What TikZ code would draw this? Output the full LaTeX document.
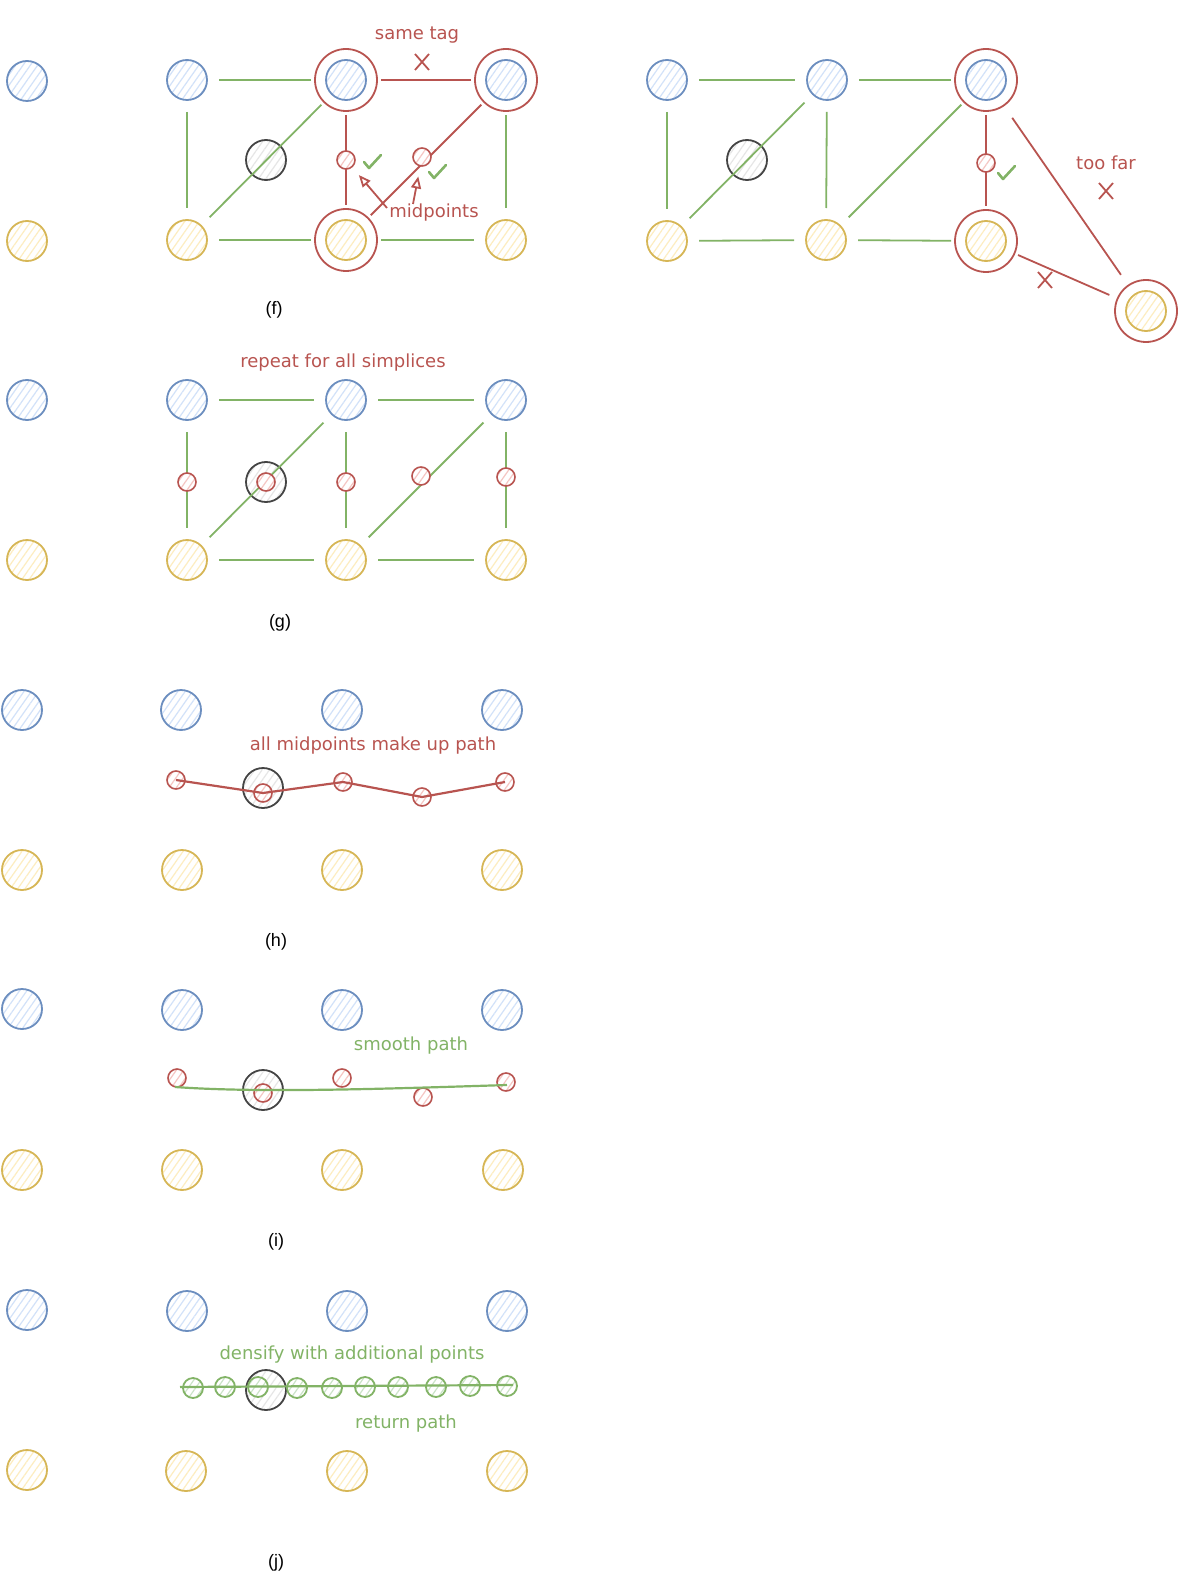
\documentclass[tikz,border=0pt]{standalone}
\usepackage{fontspec}
\setmainfont{Liberation Sans}
\newfontfamily\notefont{DejaVu Sans}
\usetikzlibrary{arrows.meta,patterns.meta}

\definecolor{bluedraw}{HTML}{6C8EBF}
\definecolor{bluefill}{HTML}{D2E2F9}
\definecolor{yellowdraw}{HTML}{D6B656}
\definecolor{yellowfill}{HTML}{FDEDC0}
\definecolor{reddraw}{HTML}{B85450}
\definecolor{redfill}{HTML}{F5C6C3}
\definecolor{greendraw}{HTML}{82B366}
\definecolor{greenfill}{HTML}{CBE3C7}
\definecolor{querydraw}{HTML}{444444}
\definecolor{queryfill}{HTML}{E6E6E6}

\tikzset{
	hatch/.style={preaction={fill=white}, pattern={Lines[angle=55, distance=6pt, line width=1.2pt]}, pattern color=#1},
	vtxblue/.style={circle, draw=bluedraw, hatch=bluefill, line width=1.8pt, minimum size=40pt, inner sep=0pt, outer sep=12pt},
	vtxyellow/.style={circle, draw=yellowdraw, hatch=yellowfill, line width=1.8pt, minimum size=40pt, inner sep=0pt, outer sep=12pt},
	query/.style={circle, draw=querydraw, hatch=queryfill, line width=1.8pt, minimum size=40pt, inner sep=0pt},
	ring/.style={circle, draw=reddraw, line width=1.8pt, minimum size=62pt, inner sep=0pt, outer sep=4pt},
	midpt/.style={circle, draw=reddraw, hatch=redfill, line width=1.6pt, minimum size=18pt, inner sep=0pt},
	densept/.style={circle, draw=greendraw, hatch=greenfill, line width=1.8pt, minimum size=20pt, inner sep=0pt},
	ok/.style={draw=greendraw, line width=1.8pt},
	bad/.style={draw=reddraw, line width=1.8pt},
	note/.style={font=\notefont\fontsize{18}{21}\selectfont},
	caption/.style={font=\fontsize{18}{21}\selectfont},
	pics/tick/.style={code={\draw[greendraw, line width=2.6pt, line cap=round, line join=round] (-8,0) -- (-3,6) -- (9,-7);}},
	pics/cross/.style={code={\draw[reddraw, line width=1.8pt] (-7,-8) -- (7,8) (-7,8) -- (7,-8);}},
}

\begin{document}
\begin{tikzpicture}[x=1pt, y=-1pt]
	\useasboundingbox (0,0) rectangle (1178,1594);

	% (f) one simplex, tags compared
	\draw (27,81) node [vtxblue] (fL1) {};
	\draw (27,241) node [vtxyellow] (fL2) {};
	\draw (187,80) node [vtxblue] (fB1) {};
	\draw (346,80) node [vtxblue] (fB2) {};
	\draw (506,80) node [vtxblue] (fB3) {};
	\draw (187,240) node [vtxyellow] (fY1) {};
	\draw (346,240) node [vtxyellow] (fY2) {};
	\draw (506,240) node [vtxyellow] (fY3) {};
	\draw (346,80) node [ring] (fB2r) {};
	\draw (506,80) node [ring] (fB3r) {};
	\draw (346,240) node [ring] (fY2r) {};
	\draw (266,160) node [query] (fq) {};

	\draw[ok]
		(fB1) edge (fB2r)
		(fB1) edge (fY1)
		(fY1) edge (fB2r)
		(fB3r) edge (fY3)
		(fY1) edge (fY2r)
		(fY2r) edge (fY3)
	;
	\draw[bad]
		(fB2r) edge (fB3r)
		(fB2r) edge (fY2r)
		(fY2r) edge (fB3r)
	;
	\draw (346,160) node [midpt] (fm1) {};
	\draw (422,157) node [midpt] (fm2) {};
	\pic at (372,162) {tick};
	\pic at (437,172) {tick};

	\node [note, text=reddraw] (sametag) at (417,35) {same tag};
	\pic at (422,62) {cross};
	\node [note, text=reddraw] (midlbl) at (434,213) {midpoints};
	\coordinate (arrA) at (387,208);
	\coordinate (arrB) at (413,204);
	\draw[bad, -{Triangle[open, length=12pt, width=10pt]}, shorten >=10pt] (arrA) -- (fm1);
	\draw[bad, -{Triangle[open, length=12pt, width=10pt]}, shorten >=10pt] (arrB) -- (fm2);
	\node [caption] (capf) at (274,310) {(f)};

	% (f) right: too far
	\draw (667,80) node [vtxblue] (rB1) {};
	\draw (827,80) node [vtxblue] (rB2) {};
	\draw (986,80) node [vtxblue] (rB3) {};
	\draw (667,241) node [vtxyellow] (rY1) {};
	\draw (826,240) node [vtxyellow] (rY2) {};
	\draw (986,241) node [vtxyellow] (rY3) {};
	\draw (1146,311) node [vtxyellow] (rF) {};
	\draw (986,80) node [ring] (rB3r) {};
	\draw (986,241) node [ring] (rY3r) {};
	\draw (1146,311) node [ring] (rFr) {};
	\draw (747,160) node [query] (rq) {};

	\draw[ok]
		(rB1) edge (rB2)
		(rB2) edge (rB3r)
		(rB1) edge (rY1)
		(rY1) edge (rB2)
		(rB2) edge (rY2)
		(rY2) edge (rB3r)
		(rY1) edge (rY2)
		(rY2) edge (rY3r)
	;
	\draw[bad]
		(rB3r) edge (rY3r)
		(rB3r) edge [shorten <=11pt, shorten >=9pt] (rFr)
		(rY3r) edge [shorten >=5pt] (rFr)
	;
	\draw (986,163) node [midpt] (rm1) {};
	\pic at (1006,173) {tick};
	\node [note, text=reddraw] (toofar) at (1106,163) {too far};
	\pic at (1106,191) {cross};
	\pic at (1045,280) {cross};

	% (g) all simplices
	\draw (27,400) node [vtxblue] (gL1) {};
	\draw (27,560) node [vtxyellow] (gL2) {};
	\draw (187,400) node [vtxblue] (gB1) {};
	\draw (346,400) node [vtxblue] (gB2) {};
	\draw (506,400) node [vtxblue] (gB3) {};
	\draw (187,560) node [vtxyellow] (gY1) {};
	\draw (346,560) node [vtxyellow] (gY2) {};
	\draw (506,560) node [vtxyellow] (gY3) {};
	\draw (266,482) node [query] (gq) {};

	\draw[ok]
		(gB1) edge (gB2)
		(gB2) edge (gB3)
		(gB1) edge (gY1)
		(gY1) edge (gB2)
		(gB2) edge (gY2)
		(gY2) edge (gB3)
		(gB3) edge (gY3)
		(gY1) edge (gY2)
		(gY2) edge (gY3)
	;
	\draw (187,482) node [midpt] (gm1) {};
	\draw (266,482) node [midpt] (gm2) {};
	\draw (346,482) node [midpt] (gm3) {};
	\draw (421,476) node [midpt] (gm4) {};
	\draw (506,477) node [midpt] (gm5) {};
	\node [note, text=reddraw] (repeat) at (343,363) {repeat for all simplices};
	\node [caption] (capg) at (280,623) {(g)};

	% (h) midpoint path
	\draw (22,710) node [vtxblue] (hL1) {};
	\draw (22,870) node [vtxyellow] (hL2) {};
	\draw (181,710) node [vtxblue] (hB1) {};
	\draw (342,710) node [vtxblue] (hB2) {};
	\draw (502,710) node [vtxblue] (hB3) {};
	\draw (182,870) node [vtxyellow] (hY1) {};
	\draw (342,870) node [vtxyellow] (hY2) {};
	\draw (502,870) node [vtxyellow] (hY3) {};
	\draw (263,788) node [query] (hq) {};
	\draw (176,780) node [midpt] (hm1) {};
	\draw (263,793) node [midpt] (hm2) {};
	\draw (343,782) node [midpt] (hm3) {};
	\draw (422,797) node [midpt] (hm4) {};
	\draw (505,782) node [midpt] (hm5) {};
	\draw[bad, line width=2.2pt] (hm1.center) -- (hm2.center) -- (hm3.center) -- (hm4.center) -- (hm5.center);
	\node [note, text=reddraw] (allmid) at (373,746) {all midpoints make up path};
	\node [caption] (caph) at (276,942) {(h)};

	% (i) smoothed path
	\draw (22,1009) node [vtxblue] (iL1) {};
	\draw (22,1170) node [vtxyellow] (iL2) {};
	\draw (182,1010) node [vtxblue] (iB1) {};
	\draw (342,1010) node [vtxblue] (iB2) {};
	\draw (502,1010) node [vtxblue] (iB3) {};
	\draw (182,1170) node [vtxyellow] (iY1) {};
	\draw (342,1170) node [vtxyellow] (iY2) {};
	\draw (503,1170) node [vtxyellow] (iY3) {};
	\draw (263,1090) node [query] (iq) {};
	\draw (177,1078) node [midpt] (im1) {};
	\draw (263,1093) node [midpt] (im2) {};
	\draw (342,1078) node [midpt] (im3) {};
	\draw (423,1097) node [midpt] (im4) {};
	\draw (506,1082) node [midpt] (im5) {};
	\coordinate (iS) at (175,1087);
	\coordinate (iE) at (507,1085);
	\draw[ok, line width=2.2pt] (iS) .. controls (260,1093) and (380,1089) .. (iE);
	\node [note, text=greendraw] (smooth) at (411,1046) {smooth path};
	\node [caption] (capi) at (276,1242) {(i)};

	% (j) densified path
	\draw (27,1310) node [vtxblue] (jL1) {};
	\draw (27,1470) node [vtxyellow] (jL2) {};
	\draw (187,1311) node [vtxblue] (jB1) {};
	\draw (347,1311) node [vtxblue] (jB2) {};
	\draw (507,1311) node [vtxblue] (jB3) {};
	\draw (186,1471) node [vtxyellow] (jY1) {};
	\draw (347,1471) node [vtxyellow] (jY2) {};
	\draw (507,1471) node [vtxyellow] (jY3) {};
	\draw (266,1390) node [query] (jq) {};
	\draw (193,1388) node [densept] (jd1) {};
	\draw (225,1387) node [densept] (jd2) {};
	\draw (258,1387) node [densept] (jd3) {};
	\draw (297,1388) node [densept] (jd4) {};
	\draw (332,1388) node [densept] (jd5) {};
	\draw (365,1387) node [densept] (jd6) {};
	\draw (398,1387) node [densept] (jd7) {};
	\draw (436,1387) node [densept] (jd8) {};
	\draw (470,1386) node [densept] (jd9) {};
	\draw (507,1386) node [densept] (jd10) {};
	\coordinate (jS) at (180,1387);
	\coordinate (jE) at (513,1385);
	\draw[ok, line width=2.2pt] (jS) -- (jE);
	\node [note, text=greendraw] (densify) at (352,1355) {densify with additional points};
	\node [note, text=greendraw] (ret) at (406,1424) {return path};
	\node [caption] (capj) at (276,1563) {(j)};
\end{tikzpicture}
\end{document}
